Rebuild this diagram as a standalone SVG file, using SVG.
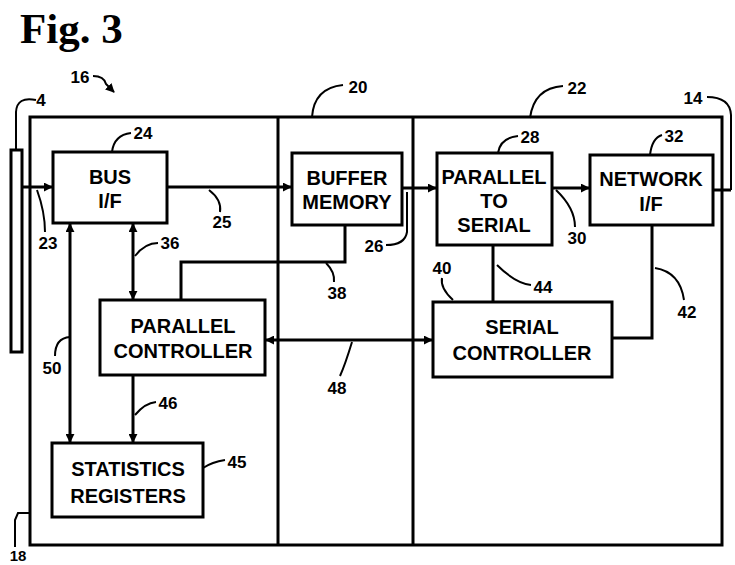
<svg xmlns="http://www.w3.org/2000/svg" width="735" height="565" viewBox="0 0 735 565">
<defs>
<marker id="ah" viewBox="0 0 10 10" refX="9" refY="5" markerWidth="9" markerHeight="9" markerUnits="userSpaceOnUse" orient="auto-start-reverse">
<path d="M0,0 L10,5 L0,10 Z" fill="#000"/>
</marker>
<style>
.box{fill:#fff;stroke:#000;stroke-width:3}
.frame{fill:none;stroke:#000;stroke-width:3}
.ln{fill:none;stroke:#000;stroke-width:3}
.ld{fill:none;stroke:#000;stroke-width:2}
.t{font-family:"Liberation Sans",Arial,sans-serif;font-weight:bold;font-size:20px;text-anchor:middle;fill:#000}
.n{font-family:"Liberation Sans",Arial,sans-serif;font-weight:bold;font-size:17px;text-anchor:middle;fill:#000}
.fig{font-family:"Liberation Serif","Times New Roman",serif;font-weight:bold;font-size:43px;fill:#000}
</style>
</defs>
<rect width="735" height="565" fill="#fff"/>
<text class="fig" x="20" y="43">Fig. 3</text>

<g id="frame">
<rect class="frame" x="30" y="117" width="692" height="428"/>
<line class="frame" x1="278" y1="117" x2="278" y2="545"/>
<line class="frame" x1="413" y1="117" x2="413" y2="545"/>
<rect class="frame" x="11" y="150" width="11" height="202"/>
</g>

<g id="connectors">
<line class="ln" x1="22" y1="187" x2="52" y2="187" marker-end="url(#ah)"/>
<line class="ln" x1="167" y1="187" x2="291" y2="187" marker-end="url(#ah)"/>
<line class="ln" x1="402" y1="188" x2="436" y2="188" marker-end="url(#ah)"/>
<line class="ln" x1="552" y1="188" x2="589" y2="188" marker-end="url(#ah)"/>
<line class="ln" x1="713" y1="190" x2="731" y2="190"/>
<line class="ln" x1="133" y1="224" x2="133" y2="299" marker-start="url(#ah)" marker-end="url(#ah)"/>
<line class="ln" x1="70" y1="224" x2="70" y2="442" marker-start="url(#ah)" marker-end="url(#ah)"/>
<line class="ln" x1="133" y1="375" x2="133" y2="442" marker-end="url(#ah)"/>
<polyline class="ln" points="181,300 181,262 345,262 345,225"/>
<line class="ln" x1="266" y1="340" x2="432" y2="340" marker-start="url(#ah)" marker-end="url(#ah)"/>
<line class="ln" x1="493" y1="245" x2="493" y2="302"/>
<polyline class="ln" points="652,225 652,338 612,338"/>
</g>

<g id="leaders">
<path class="ld" d="M93,76 Q104,76 106,84 L114,92" marker-end="url(#ah)"/>
<path class="ld" d="M36,100 Q17,96 16,112 L16,150"/>
<path class="ld" d="M112,152 Q114,135 131,133"/>
<path class="ld" d="M312,117 Q314,88 343,85"/>
<path class="ld" d="M530,118 Q534,88 563,86"/>
<path class="ld" d="M498,153 Q500,138 518,136"/>
<path class="ld" d="M650,155 Q652,138 662,135"/>
<path class="ld" d="M731,190 L731,115 Q730,97 707,97"/>
<path class="ld" d="M37,190 Q45,212 45,232"/>
<path class="ld" d="M209,190 Q222,200 220,212"/>
<path class="ld" d="M135,256 Q145,243 158,243"/>
<path class="ld" d="M407,192 L407,232 Q405,245 386,245"/>
<path class="ld" d="M556,190 Q575,208 575,227"/>
<path class="ld" d="M453,300 Q440,288 442,278"/>
<path class="ld" d="M497,265 Q515,283 531,285"/>
<path class="ld" d="M326,263 Q335,272 334,282"/>
<path class="ld" d="M655,268 Q680,272 684,300"/>
<path class="ld" d="M70,337 Q55,338 55,356"/>
<path class="ld" d="M352,342 Q345,365 340,376"/>
<path class="ld" d="M135,415 Q145,403 156,402"/>
<path class="ld" d="M203,468 Q212,462 225,460"/>
<path class="ld" d="M30,513 L18,513 L15,520 L15,547"/>
</g>

<g id="labels">
<text class="n" x="80" y="83">16</text>
<text class="n" x="41" y="106">4</text>
<text class="n" x="143" y="139">24</text>
<text class="n" x="358" y="93">20</text>
<text class="n" x="577" y="94">22</text>
<text class="n" x="693" y="104">14</text>
<text class="n" x="530" y="143">28</text>
<text class="n" x="674" y="142">32</text>
<text class="n" x="48" y="249">23</text>
<text class="n" x="222" y="228">25</text>
<text class="n" x="170" y="249">36</text>
<text class="n" x="374" y="252">26</text>
<text class="n" x="577" y="244">30</text>
<text class="n" x="442" y="274">40</text>
<text class="n" x="543" y="293">44</text>
<text class="n" x="337" y="299">38</text>
<text class="n" x="687" y="318">42</text>
<text class="n" x="52" y="374">50</text>
<text class="n" x="337" y="394">48</text>
<text class="n" x="168" y="409">46</text>
<text class="n" x="237" y="468">45</text>
<text class="n" x="18" y="561" style="font-size:15px">18</text>
</g>

<g id="bus-if">
<rect class="box" x="53" y="152" width="114" height="71"/>
<text class="t" x="110" y="184">BUS</text>
<text class="t" x="110" y="208">I/F</text>
</g>
<g id="buffer-memory">
<rect class="box" x="292" y="153" width="110" height="72"/>
<text class="t" x="347" y="185">BUFFER</text>
<text class="t" x="347" y="209">MEMORY</text>
</g>
<g id="parallel-to-serial">
<rect class="box" x="437" y="153" width="115" height="92"/>
<text class="t" x="494" y="184">PARALLEL</text>
<text class="t" x="494" y="208">TO</text>
<text class="t" x="494" y="232">SERIAL</text>
</g>
<g id="network-if">
<rect class="box" x="590" y="155" width="123" height="70"/>
<text class="t" x="651" y="186">NETWORK</text>
<text class="t" x="651" y="211">I/F</text>
</g>
<g id="parallel-controller">
<rect class="box" x="100" y="300" width="165" height="75"/>
<text class="t" x="183" y="333">PARALLEL</text>
<text class="t" x="183" y="358">CONTROLLER</text>
</g>
<g id="serial-controller">
<rect class="box" x="433" y="302" width="179" height="75"/>
<text class="t" x="522" y="334">SERIAL</text>
<text class="t" x="522" y="360">CONTROLLER</text>
</g>
<g id="statistics-registers">
<rect class="box" x="52" y="443" width="151" height="74"/>
<text class="t" x="128" y="476">STATISTICS</text>
<text class="t" x="128" y="503">REGISTERS</text>
</g>
</svg>
